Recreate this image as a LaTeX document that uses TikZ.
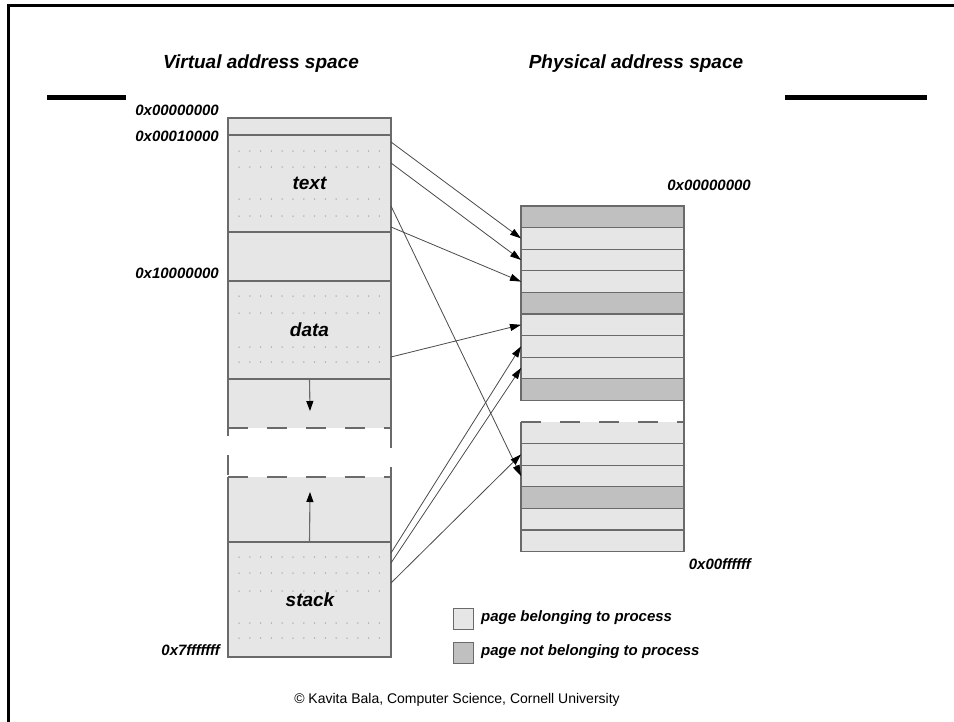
\documentclass[tikz,border=0pt]{standalone}
\usepackage{fontspec}
\setmainfont{Liberation Sans}
\usetikzlibrary{arrows.meta,calc}
\definecolor{lightpg}{HTML}{E6E6E6}
\definecolor{darkpg}{HTML}{C0C0C0}
\definecolor{edgec}{HTML}{6A6A6A}
\definecolor{arrc}{HTML}{4A4A4A}
\definecolor{dotc}{HTML}{A0A0A0}
\begin{document}
\begin{tikzpicture}[x=1pt,y=-1pt,
  seg/.style={draw=edgec, line width=1.1pt, fill=lightpg, inner sep=0pt, outer sep=0pt,
    minimum width=163pt, anchor=north west, rectangle},
  segfill/.style={seg, draw=none},
  prow/.style={draw=edgec, line width=1.1pt, inner sep=0pt, outer sep=0pt,
    minimum width=163pt, minimum height=21.6pt, anchor=north west, rectangle},
  ownpg/.style={prow, fill=lightpg},
  notownpg/.style={prow, fill=darkpg},
  ownfillpg/.style={ownpg, draw=none},
  brkline/.style={draw=edgec, line width=1.1pt, dash pattern=on 20pt off 19pt},
  boxedge/.style={draw=edgec, line width=1.1pt},
  maparr/.style={draw=arrc, line width=0.8pt, -{Triangle[length=11pt,width=7pt,color=black]}},
  growarr/.style={draw=edgec, line width=1.1pt, -{Triangle[length=10pt,width=7pt,color=black]}},
  titletxt/.style={font=\bfseries\itshape\fontsize{19}{22}\selectfont},
  addrtxt/.style={font=\bfseries\itshape\fontsize{15}{17}\selectfont, anchor=east, inner sep=0pt},
  seglbl/.style={font=\bfseries\itshape\fontsize{19}{22}\selectfont},
  legtxt/.style={font=\bfseries\itshape\fontsize{15}{18}\selectfont, anchor=west, inner sep=0pt},
  legbox/.style={draw=edgec, line width=1pt, inner sep=0pt, minimum width=20pt, minimum height=21pt, anchor=north west},
]
\useasboundingbox (0,0) rectangle (954,721);
\fill[white] (0,0) rectangle (954,721);

% frame and bars
\draw[line width=3pt] (8,722) -- (8,5) -- (955,5);
\draw[line width=5pt] (47,97) -- (126,97);
\draw[line width=5pt] (785,97) -- (927,97);

% titles
\node[titletxt] (vtitle) at (261,64) {Virtual address space};
\node[titletxt] (ptitle) at (636,64) {Physical address space};

% virtual address space segments
\node[seg, minimum height=17pt] (vtop) at (228,118) {};
\node[seg, minimum height=97pt] (vtext) at (228,135) {};
\node[seg, minimum height=49pt] (vgap) at (228,232) {};
\node[seg, minimum height=98pt] (vdata) at (228,281) {};
\node[segfill, minimum height=49pt] (vheap) at (228,379) {};
\node[segfill, minimum height=65pt] (vgrow) at (228,477) {};
\node[seg, minimum height=115pt] (vstack) at (228,542) {};

% edges of the growth areas
\draw[boxedge] (vheap.south west) -- (vheap.north west) -- (vheap.north east) -- (vheap.south east);
\draw[brkline] (vheap.south west) -- (vheap.south east);
\draw[brkline, dash phase=12pt] (vheap.south west) -- (vgrow.north west);
\draw[brkline] (vheap.south east) -- (vgrow.north east);
\draw[boxedge] (vgrow.north west) -- (vgrow.south west) -- (vgrow.south east) -- (vgrow.north east);
\draw[brkline] (vgrow.north west) -- (vgrow.north east);

% dots
\foreach \r in {151,167,199,216, 296,313,347,362, 557,573,591,623,638}
  \foreach \c in {0,...,13}
    \fill[dotc] (239+\c*10.8,\r) circle[radius=0.75];

% segment labels
\node[seglbl] (ltext) at (vtext.center) {text};
\node[seglbl] (ldata) at (vdata.center) {data};
\node[seglbl, fill=lightpg, inner sep=1pt] (lstack) at (310,600) {stack};

% growth arrows
\coordinate (hd) at (310,411);
\coordinate (su) at (310,492);
\draw[growarr] (vheap.north) -- (hd);
\draw[growarr] (vstack.north) -- (su);

% virtual address labels
\node[addrtxt] (a0) at (219,110) {0x00000000};
\node[addrtxt] (a1) at (219,136) {0x00010000};
\node[addrtxt] (a2) at (219,273) {0x10000000};
\node[addrtxt] (a3) at (220,650) {0x7fffffff};

% physical memory rows
\node[notownpg] (p1) at (521,206) {};
\node[ownpg] (p2) at (521,227.6) {};
\node[ownpg] (p3) at (521,249.2) {};
\node[ownpg] (p4) at (521,270.8) {};
\node[notownpg] (p5) at (521,292.4) {};
\node[ownpg] (p6) at (521,314) {};
\node[ownpg] (p7) at (521,335.6) {};
\node[ownpg] (p8) at (521,357.2) {};
\node[notownpg] (p9) at (521,378.8) {};
\node[ownfillpg] (q1) at (521,422) {};
\node[ownpg] (q2) at (521,443.6) {};
\node[ownpg] (q3) at (521,465.2) {};
\node[notownpg] (q4) at (521,486.8) {};
\node[ownpg] (q5) at (521,508.4) {};
\node[ownpg] (q6) at (521,530) {};
\draw[boxedge] (q1.north west) -- (q1.south west);
\draw[boxedge] (p9.south east) -- (q1.south east);
\draw[brkline] (q1.north west) -- (q1.north east);

% physical labels
\node[addrtxt] (b0) at (751,185) {0x00000000};
\node[addrtxt] (b1) at (751,564) {0x00ffffff};

% mapping arrows
\coordinate (s1) at (391,142);
\coordinate (s2) at (391,163);
\coordinate (s3) at (391,227);
\coordinate (s4) at (391,206);
\coordinate (s5) at (391,357);
\coordinate (s6) at (391,553);
\coordinate (s7) at (391,563);
\coordinate (s8) at (391,583);
\draw[maparr] (s1) -- (p2.west);
\draw[maparr] (s2) -- (p3.west);
\draw[maparr] (s3) -- (p4.west);
\draw[maparr] (s4) -- (q3.west);
\draw[maparr] (s5) -- (p6.west);
\draw[maparr] (s6) -- (p7.west);
\draw[maparr] (s7) -- (p8.west);
\draw[maparr] (s8) -- (q2.west);

% legend
\node[legbox, fill=lightpg] (k1) at (453,608) {};
\node[legbox, fill=darkpg] (k2) at (453,642) {};
\node[legtxt] (t1) at (481,618) {page belonging to process};
\node[legtxt] (t2) at (481,652) {page not belonging to process};

% credit
\node[font=\fontsize{14}{16}\selectfont] (credit) at (457,700) {\textcopyright{} Kavita Bala, Computer Science, Cornell University};
\end{tikzpicture}
\end{document}
